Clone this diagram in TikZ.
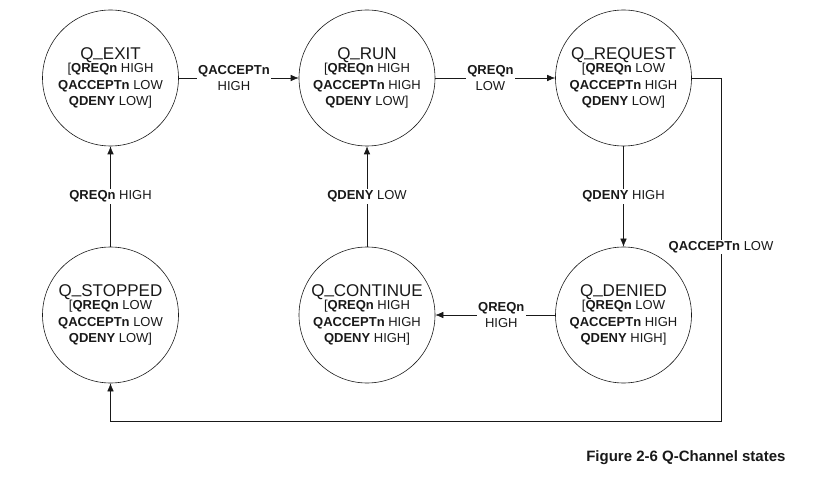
\documentclass[tikz,border=0pt]{standalone}
\usepackage{fontspec}
\setmainfont{Liberation Sans}
\usetikzlibrary{arrows.meta,positioning}
\definecolor{inkQ}{rgb}{0.1,0.1,0.1}

\tikzset{
  state/.style={circle, draw=inkQ, line width=0.6pt, minimum size=136pt, inner sep=0pt,
    align=center, text=inkQ, font=\fontsize{13}{16.7}\selectfont},
  cond/.style={fill=white, align=center, inner sep=1.5pt, text=inkQ,
    font=\fontsize{13}{16}\selectfont},
  trans/.style={draw=inkQ, line width=0.6pt, -{Latex[length=8pt,width=6.5pt]}},
}
\newcommand{\sname}[1]{{\fontsize{17}{19}\selectfont Q\raisebox{2.6pt}{\_}#1}\\[-3.3pt]}

\begin{document}
\begin{tikzpicture}[x=1pt,y=1pt]
			\useasboundingbox (0,0) rectangle (840,477);
			% states
			\node[state] (exit) at (110.5,399) {\sname{EXIT}[\textbf{QREQn} HIGH\\\textbf{QACCEPTn} LOW\\\textbf{QDENY} LOW]};
			\node[state] (run) at (367,399) {\sname{RUN}[\textbf{QREQn} HIGH\\\textbf{QACCEPTn} HIGH\\\textbf{QDENY} LOW]};
			\node[state] (req) at (623.5,399) {\sname{REQUEST}[\textbf{QREQn} LOW\\\textbf{QACCEPTn} HIGH\\\textbf{QDENY} LOW]};
			\node[state] (stop) at (110.5,162) {\sname{STOPPED}[\textbf{QREQn} LOW\\\textbf{QACCEPTn} LOW\\\textbf{QDENY} LOW]};
			\node[state] (cont) at (367,162) {\sname{CONTINUE}[\textbf{QREQn} HIGH\\\textbf{QACCEPTn} HIGH\\\textbf{QDENY} HIGH]};
			\node[state] (deny) at (623.5,162) {\sname{DENIED}[\textbf{QREQn} LOW\\\textbf{QACCEPTn} HIGH\\\textbf{QDENY} HIGH]};

			% corners of the return path
			\coordinate (ne) at (721,399);
			\coordinate (se) at (721,56);

			% transitions
			\draw[trans] (exit) -- node[cond,pos=0.46]{\textbf{QACCEPTn}\\HIGH} (run);
			\draw[trans] (run) -- node[cond,pos=0.46]{\textbf{QREQn}\\LOW} (req);
			\draw[trans] (req) -- node[cond]{\textbf{QDENY} HIGH} (deny);
			\draw[trans] (deny) -- node[cond,pos=0.45]{\textbf{QREQn}\\HIGH} (cont);
			\draw[trans] (cont) -- node[cond]{\textbf{QDENY} LOW} (run);
			\draw[trans] (stop) -- node[cond]{\textbf{QREQn} HIGH} (exit);
			\draw[trans] (req.east) -- (ne) -- node[cond,pos=0.493]{\textbf{QACCEPTn} LOW} (se) -| (stop.south);

			% caption
			\node[anchor=east, text=inkQ, font=\fontsize{15}{17}\selectfont\bfseries] (cap) at (789,19) {Figure 2-6 Q-Channel states};
\end{tikzpicture}
\end{document}
